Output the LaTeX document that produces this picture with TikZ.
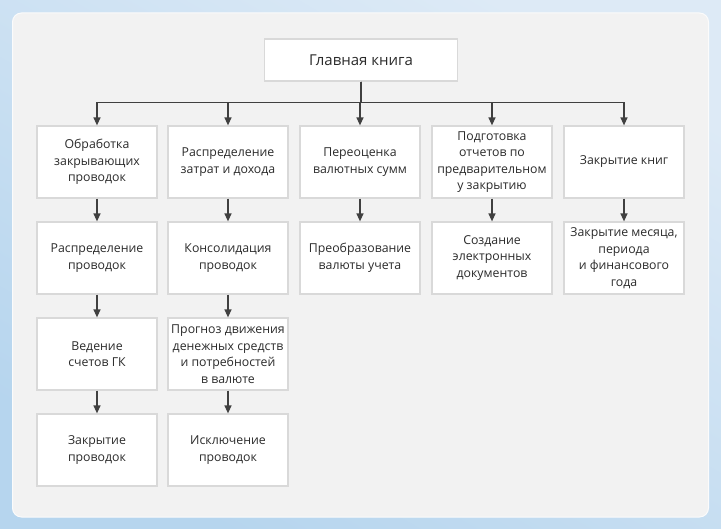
\documentclass[tikz,border=0pt]{standalone}
\usepackage{fontspec}
\setmainfont{Open Sans}
\usetikzlibrary{arrows.meta}
\definecolor{bgA}{HTML}{DDEAF6}
\definecolor{bgB}{HTML}{B6D5EE}
\definecolor{panel}{HTML}{F2F2F2}
\definecolor{boxline}{HTML}{D9D9D9}
\definecolor{txt}{HTML}{2B2B2B}
\definecolor{conn}{HTML}{404040}
\tikzset{
  stepbox/.style={draw=boxline, line width=1.2pt, fill=white, minimum width=120pt,
    minimum height=72pt, inner sep=0pt, align=center, text=txt,
    font=\fontsize{12.3}{16.5}\selectfont},
  topbox/.style={stepbox, minimum width=193pt, minimum height=42pt,
    font=\fontsize{15}{18}\selectfont},
  link/.style={draw=conn, line width=1.3pt, -{Triangle[length=8pt,width=7pt]}}
}
\begin{document}
\begin{tikzpicture}[x=1pt,y=-1pt]
\useasboundingbox (0,0) rectangle (721,529);
\shade[top color=bgA, bottom color=bgB, shading angle=-30] (0,0) rectangle (721,529);
\draw[draw=white!70!panel, line width=1pt, fill=panel, rounded corners=9pt] (12.5,13) rectangle (708.5,517);

\node[topbox] (top) at (361,60) {Главная книга};

\node[stepbox] (a1) at (97,162) {Обработка\\закрывающих\\проводок};
\node[stepbox] (a2) at (97,258) {Распределение\\проводок};
\node[stepbox] (a3) at (97,354) {Ведение\\счетов ГК};
\node[stepbox] (a4) at (97,450) {Закрытие\\проводок};

\node[stepbox] (b1) at (228,162) {Распределение\\затрат и дохода};
\node[stepbox] (b2) at (228,258) {Консолидация\\проводок};
\node[stepbox] (b3) at (228,354) {Прогноз движения\\денежных средств\\и потребностей\\в валюте};
\node[stepbox] (b4) at (228,450) {Исключение\\проводок};

\node[stepbox] (c1) at (360,162) {Переоценка\\валютных сумм};
\node[stepbox] (c2) at (360,258) {Преобразование\\валюты учета};

\node[stepbox] (d1) at (492,162) {Подготовка\\отчетов по\\предварительном\\у закрытию};
\node[stepbox] (d2) at (492,258) {Создание\\электронных\\документов};

\node[stepbox] (e1) at (624,162) {Закрытие книг};
\node[stepbox] (e2) at (624,258) {Закрытие месяца,\\периода\\и финансового\\года};

\foreach \n in {a1,b1,c1,d1,e1}
  \draw[link] (top.south) -- ++(0,20.7) -| (\n.north);

\draw[link] (a1) -- (a2);
\draw[link] (a2) -- (a3);
\draw[link] (a3) -- (a4);
\draw[link] (b1) -- (b2);
\draw[link] (b2) -- (b3);
\draw[link] (b3) -- (b4);
\draw[link] (c1) -- (c2);
\draw[link] (d1) -- (d2);
\draw[link] (e1) -- (e2);
\end{tikzpicture}
\end{document}
